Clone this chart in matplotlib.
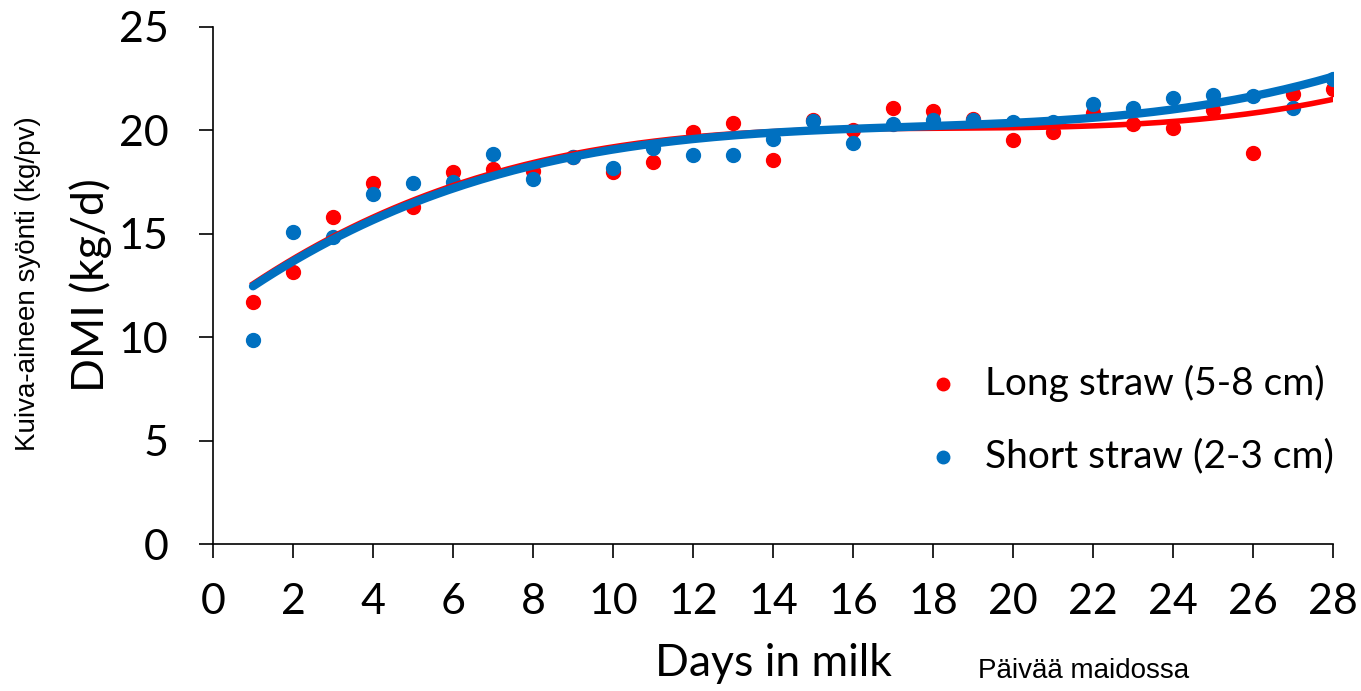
import numpy as np
import matplotlib.pyplot as plt

# päivät ja kuiva-aineen syönti (luettu kuvasta)
days = np.arange(1, 29)
long_straw = [11.7, 13.15, 15.8, 17.45, 16.3, 18.0, 18.15, 18.05, 18.7, 18.0,
              18.47, 19.9, 20.35, 18.57, 20.5, 20.0, 21.1, 20.95, 20.55, 19.54,
              19.92, 20.84, 20.3, 20.1, 21.0, 18.9, 21.75, 22.0]
short_straw = [9.86, 15.09, 14.85, 16.92, 17.45, 17.5, 18.88, 17.65, 18.7, 18.18,
               19.15, 18.8, 18.8, 19.6, 20.45, 19.39, 20.3, 20.52, 20.5, 20.4,
               20.4, 21.28, 21.08, 21.57, 21.72, 21.65, 21.08, 22.48]
labels = ["Long straw (5-8 cm)", "Short straw (2-3 cm)"]
red = "#FF0000"
blue = "#0070C0"

fig = plt.figure(figsize=(13.61, 6.91), dpi=100)
ax = fig.add_axes([0.1565, 0.2127, 0.8229, 0.7483])

ax.scatter(days, long_straw, s=100, color=red, label=labels[0], zorder=2)
ax.scatter(days, short_straw, s=100, color=blue, label=labels[1], zorder=2)

# 3. asteen trendiviivat kuten Excelissä
xx = np.linspace(1, 28, 200)
ax.plot(xx, np.polyval(np.polyfit(days, long_straw, 3), xx), color=red, lw=4, zorder=3)
ax.plot(xx, np.polyval(np.polyfit(days, short_straw, 3), xx), color=blue, lw=6,
        solid_capstyle="round", zorder=4)

ax.set_xlim(0, 28)
ax.set_ylim(0, 25)
ax.set_xticks(range(0, 29, 2))
ax.set_yticks(range(0, 26, 5))
for s in ["top", "right"]:
    ax.spines[s].set_visible(False)
for s in ["left", "bottom"]:
    ax.spines[s].set_linewidth(1.2)
ax.tick_params(length=10, width=1.2, labelsize=31)
ax.tick_params(axis="x", pad=18)
ax.tick_params(axis="y", pad=22)
for t in ax.get_xticklabels() + ax.get_yticklabels():
    t.set_fontfamily("Lato")

ax.set_xlabel("Days in milk", fontsize=32, family="Lato", labelpad=16)
ax.set_ylabel("DMI (kg/d)", fontsize=32, family="Lato", labelpad=5)
fig.text(0.0205, 0.589, "Kuiva-aineen syönti (kg/pv)", rotation=90, ha="center", va="center",
         fontsize=20, family="Liberation Sans")
fig.text(0.7186, 0.0188, "Päivää maidossa", ha="left", va="baseline",
         fontsize=20, family="Liberation Sans")

ax.legend(loc="upper left", bbox_to_anchor=(0.6786, 0.4725), bbox_transform=fig.transFigure,
          frameon=False, borderpad=0, borderaxespad=0,
          prop={"family": "Lato", "size": 28}, markerscale=0.9,
          handlelength=1.0, handletextpad=0.58, labelspacing=0.93)

fig.savefig("out.png", dpi=100)
